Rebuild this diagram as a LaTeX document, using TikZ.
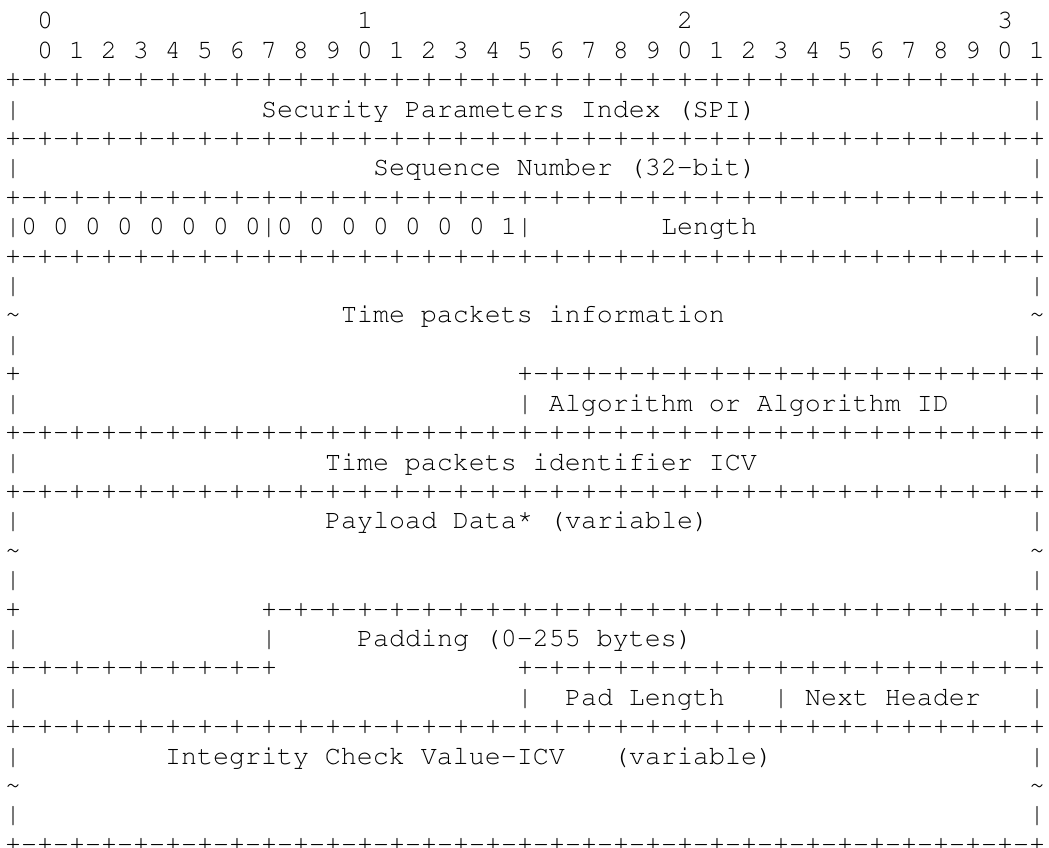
\documentclass[tikz,border=0pt]{standalone}
\usepackage[T1]{fontenc}
\usepackage{tikz}
\newcommand{\asciifont}{\fontfamily{pcr}\fontseries{m}\fontshape{n}\selectfont}
\newcommand{\dashgrp}{+-+-+-+-+-+-+-+-}
\newcommand{\fullrow}{\dashgrp\dashgrp\dashgrp\dashgrp+}

\begin{document}
\begin{tikzpicture}[x=12pt, y=-22.05pt,
    ascii/.style={anchor=base west, inner sep=0pt, outer sep=0pt,
        font=\asciifont\fontsize{20}{22}\selectfont}]
    \useasboundingbox (-3.75pt,-0.3pt) rectangle (783pt,-636.3pt);

    % bit ruler
    \node[ascii] (top0) at (2,1) {0};
    \node[ascii] (top1) at (22,1) {1};
    \node[ascii] (top2) at (42,1) {2};
    \node[ascii] (top3) at (62,1) {3};
    \node[ascii] (bits) at (2,2) {0 1 2 3 4 5 6 7 8 9 0 1 2 3 4 5 6 7 8 9 0 1 2 3 4 5 6 7 8 9 0 1};
    \node[ascii] (sepA) at (0,3) {\fullrow};

    % SPI and sequence number
    \node[ascii] (spiL) at (0,4) {|};
    \node[ascii] (spi) at (16,4) {Security Parameters Index (SPI)};
    \node[ascii] (spiR) at (64,4) {|};
    \node[ascii] (sepB) at (0,5) {\fullrow};
    \node[ascii] (seqL) at (0,6) {|};
    \node[ascii] (seq) at (23,6) {Sequence Number (32-bit)};
    \node[ascii] (seqR) at (64,6) {|};
    \node[ascii] (sepC) at (0,7) {\fullrow};
    \node[ascii] (ctl) at (0,8) {|0 0 0 0 0 0 0 0|0 0 0 0 0 0 0 1|};
    \node[ascii] (len) at (41,8) {Length};
    \node[ascii] (lenR) at (64,8) {|};
    \node[ascii] (sepD) at (0,9) {\fullrow};

    % time packets
    \node[ascii] (tpiLa) at (0,10) {|};
    \node[ascii] (tpiRa) at (64,10) {|};
    \node[ascii] (tpiLb) at (0,11) {\textasciitilde};
    \node[ascii] (tpi) at (21,11) {Time packets information};
    \node[ascii] (tpiRb) at (64,11) {\textasciitilde};
    \node[ascii] (tpiLc) at (0,12) {|};
    \node[ascii] (tpiRc) at (64,12) {|};
    \node[ascii] (tpiLd) at (0,13) {+};
    \node[ascii] (algTop) at (32,13) {\dashgrp\dashgrp+};
    \node[ascii] (algL) at (0,14) {|};
    \node[ascii] (alg) at (32,14) {| Algorithm or Algorithm ID};
    \node[ascii] (algR) at (64,14) {|};
    \node[ascii] (sepE) at (0,15) {\fullrow};
    \node[ascii] (icvL) at (0,16) {|};
    \node[ascii] (icv) at (20,16) {Time packets identifier ICV};
    \node[ascii] (icvR) at (64,16) {|};
    \node[ascii] (sepF) at (0,17) {\fullrow};

    % payload and padding
    \node[ascii] (payLa) at (0,18) {|};
    \node[ascii] (pay) at (20,18) {Payload Data\raisebox{0.2em}{*} (variable)};
    \node[ascii] (payRa) at (64,18) {|};
    \node[ascii] (payLb) at (0,19) {\textasciitilde};
    \node[ascii] (payRb) at (64,19) {\textasciitilde};
    \node[ascii] (payLc) at (0,20) {|};
    \node[ascii] (payRc) at (64,20) {|};
    \node[ascii] (payLd) at (0,21) {+};
    \node[ascii] (padTop) at (16,21) {\dashgrp\dashgrp\dashgrp+};
    \node[ascii] (padL) at (0,22) {|};
    \node[ascii] (padM) at (16,22) {|};
    \node[ascii] (pad) at (22,22) {Padding (0-255 bytes)};
    \node[ascii] (padR) at (64,22) {|};
    \node[ascii] (padBot) at (0,23) {\dashgrp+};
    \node[ascii] (trlTop) at (32,23) {\dashgrp\dashgrp+};
    \node[ascii] (trlL) at (0,24) {|};
    \node[ascii] (trlM) at (32,24) {|};
    \node[ascii] (padLen) at (35,24) {Pad Length};
    \node[ascii] (trlN) at (48,24) {|};
    \node[ascii] (nxt) at (50,24) {Next Header};
    \node[ascii] (trlR) at (64,24) {|};
    \node[ascii] (sepG) at (0,25) {\fullrow};

    % ICV
    \node[ascii] (chkLa) at (0,26) {|};
    \node[ascii] (chk) at (10,26) {Integrity Check Value-ICV};
    \node[ascii] (var) at (38,26) {(variable)};
    \node[ascii] (chkRa) at (64,26) {|};
    \node[ascii] (chkLb) at (0,27) {\textasciitilde};
    \node[ascii] (chkRb) at (64,27) {\textasciitilde};
    \node[ascii] (chkLc) at (0,28) {|};
    \node[ascii] (chkRc) at (64,28) {|};
    \node[ascii] (sepH) at (0,29) {\fullrow};
\end{tikzpicture}
\end{document}
